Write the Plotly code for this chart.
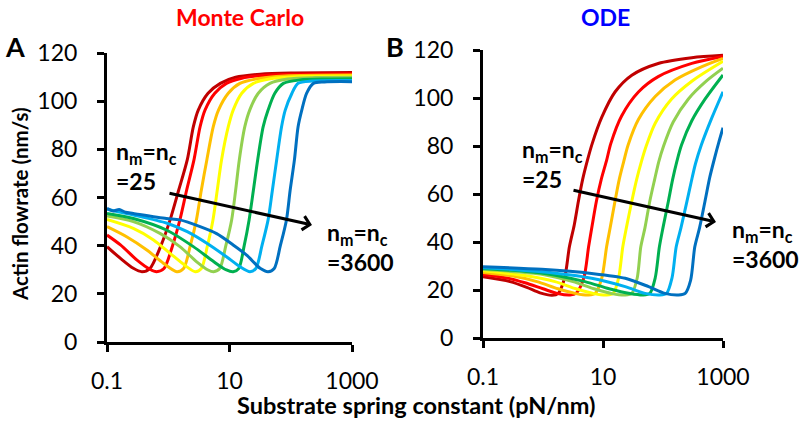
import plotly.graph_objects as go

# ---------------- data ----------------
series_names = ["25", "50", "100", "200", "400", "900", "1600", "3600"]
series_colors = ["#C00000", "#FF0000", "#FFC000", "#FFFF00",
                 "#92D050", "#00B050", "#00B0F0", "#0070C0"]

# Monte Carlo panel (x: substrate spring constant pN/nm, y: actin flowrate nm/s)
mc_dr_x = [0.1, 0.166, 0.269, 0.372, 0.501, 0.759, 1.072, 1.479, 2.042, 2.570, 3.090, 4.467, 7.079, 12.59, 31.62, 100, 1000]
mc_dr_y = [39.6, 34.7, 30.6, 29.2, 30.5, 40.0, 50.7, 63.0, 75.6, 89.4, 96.3, 103.3, 107.4, 109.9, 111.2, 111.7, 111.9]

mc_r_x = [0.1, 0.166, 0.309, 0.501, 0.646, 0.851, 1.175, 1.549, 1.995, 2.630, 3.311, 3.981, 5.754, 8.913, 15.85, 39.81, 125.9, 1000]
mc_r_y = [44.4, 40.3, 34.0, 30.2, 29.2, 30.5, 40.0, 50.7, 63.0, 75.6, 89.4, 96.3, 103.3, 107.4, 109.5, 110.8, 111.2, 111.4]

mc_o_x = [0.1, 0.209, 0.447, 0.832, 1.380, 1.778, 2.291, 2.884, 3.467, 4.266, 5.433, 6.607, 9.550, 14.79, 28.18, 79.43, 1000]
mc_o_y = [47.9, 43.7, 38.2, 32.7, 29.2, 30.5, 40.0, 50.7, 63.0, 75.6, 89.4, 96.3, 103.3, 107.4, 109.3, 110.5, 110.9]

mc_y_x = [0.1, 0.269, 0.575, 1.072, 1.995, 2.754, 3.467, 4.365, 5.370, 6.310, 7.413, 9.550, 11.48, 15.85, 24.55, 44.67, 125.9, 1000]
mc_y_y = [50.9, 47.2, 42.4, 36.8, 31.3, 29.2, 30.5, 40.0, 50.7, 63.0, 75.6, 89.4, 96.3, 103.3, 107.4, 109.2, 110.1, 110.4]

mc_lg_x = [0.1, 0.269, 0.733, 1.549, 2.884, 4.467, 5.495, 6.918, 8.710, 10.84, 12.59, 14.45, 17.78, 21.38, 29.51, 45.71, 89.13, 251.2, 1000]
mc_lg_y = [52.3, 50.0, 45.1, 39.6, 33.4, 29.9, 29.2, 30.5, 40.0, 50.7, 63.0, 75.6, 89.4, 96.3, 103.3, 107.4, 109.2, 109.8, 109.9]

mc_g_x = [0.1, 0.269, 0.933, 2.570, 5.495, 8.913, 11.48, 14.13, 17.38, 20.89, 24.55, 28.84, 35.48, 42.66, 54.95, 75.86, 141.3, 398.1, 1000]
mc_g_y = [53.4, 51.3, 46.5, 39.6, 33.4, 29.9, 29.2, 30.5, 40.0, 50.7, 63.0, 75.6, 89.4, 96.3, 103.3, 107.4, 108.8, 109.2, 109.3]

mc_lb_x = [0.1, 0.158, 0.272, 0.955, 2.042, 4.266, 8.913, 14.79, 21.63, 26.92, 33.88, 42.66, 50.12, 58.88, 70.79, 81.28, 104.7, 131.8, 223.9, 1000]
mc_lb_y = [55.1, 54.0, 52.7, 49.3, 45.8, 41.0, 35.4, 31.3, 29.2, 30.5, 40.0, 50.7, 63.0, 75.6, 89.4, 96.3, 103.3, 107.4, 108.4, 108.6]

mc_b_x = [0.1, 0.126, 0.158, 0.2, 0.269, 0.933, 1.549, 3.311, 6.166, 11.48, 19.05, 31.62, 42.66, 53.70, 67.61, 85.11, 97.72, 114.8, 131.8, 151.4, 182.0, 234.4, 354.8, 1000]
mc_b_y = [55.5, 54.4, 55.0, 53.9, 53.4, 51.3, 50.7, 47.9, 45.0, 40.3, 36.1, 30.6, 29.2, 30.5, 40.0, 50.7, 63.0, 75.6, 89.4, 96.3, 103.3, 107.4, 108.0, 108.1]

# ODE panel
ode_dr_x = [0.1, 0.282, 0.537, 0.891, 1.413, 1.778, 2.291, 2.754, 3.311, 3.890, 4.571, 5.495, 6.607, 9.550, 15.85, 30.20, 83.18, 302.0, 1000]
ode_dr_y = [25.5, 23.5, 21.1, 18.8, 17.8, 18.5, 25.0, 38.0, 47.0, 57.0, 66.0, 74.0, 81.0, 92.0, 102.5, 109.5, 114.4, 116.8, 117.8]

ode_r_x = [0.1, 0.251, 0.501, 1.0, 1.778, 2.818, 3.548, 4.786, 5.754, 6.607, 7.762, 9.333, 11.48, 13.49, 20.42, 38.90, 83.18, 302.0, 1000]
ode_r_y = [26.5, 25.0, 23.0, 20.5, 18.5, 17.9, 18.6, 25.0, 38.0, 47.0, 57.0, 66.0, 74.0, 81.0, 92.5, 102.5, 108.9, 114.4, 117.3]

ode_o_x = [0.1, 0.316, 0.794, 1.778, 3.548, 5.754, 7.413, 9.550, 11.48, 13.18, 15.85, 18.62, 21.88, 26.30, 38.90, 74.13, 158.5, 436.5, 1000]
ode_o_y = [27.3, 25.8, 23.5, 20.5, 18.5, 17.9, 18.6, 25.0, 38.0, 46.0, 57.0, 66.0, 73.0, 80.5, 91.0, 100.6, 107.5, 113.0, 116.5]

ode_y_x = [0.1, 0.501, 1.585, 3.548, 7.079, 11.48, 14.79, 18.20, 21.38, 24.55, 30.20, 36.31, 43.65, 52.48, 74.13, 138.0, 302.0, 1000]
ode_y_y = [28.0, 26.0, 23.5, 20.5, 18.5, 17.9, 18.6, 25.0, 38.0, 46.0, 57.0, 66.0, 73.5, 80.0, 89.5, 99.5, 107.0, 115.3]

ode_lg_x = [0.1, 1.0, 3.162, 7.079, 14.13, 23.44, 30.20, 37.15, 42.66, 50.12, 60.26, 72.44, 85.11, 102.3, 147.9, 263.0, 524.8, 1000]
ode_lg_y = [28.5, 26.5, 23.5, 20.5, 18.5, 17.9, 18.6, 25.0, 38.0, 46.0, 57.0, 66.0, 73.5, 80.0, 90.0, 99.5, 107.0, 112.4]

ode_g_x = [0.1, 1.0, 5.012, 12.59, 28.18, 46.77, 60.26, 74.13, 87.10, 100, 123.0, 144.5, 169.8, 204.2, 302.0, 501.2, 1000]
ode_g_y = [29.0, 27.0, 23.5, 20.5, 18.5, 17.9, 18.6, 25.0, 38.0, 46.0, 57.0, 66.0, 73.5, 80.5, 90.5, 99.5, 109.6]

ode_lb_x = [0.1, 0.955, 6.457, 23.44, 50.12, 89.13, 114.8, 141.3, 166.0, 199.5, 251.2, 295.1, 346.7, 436.5, 645.7, 1000]
ode_lb_y = [29.3, 27.6, 24.9, 21.4, 18.6, 17.9, 18.6, 25.0, 38.0, 46.0, 57.0, 65.0, 72.5, 80.5, 91.5, 102.6]

ode_b_x = [0.1, 0.955, 6.457, 23.44, 57.54, 107.2, 182.0, 234.4, 288.4, 338.8, 407.4, 501.2, 602.6, 724.4, 851.1, 1000]
ode_b_y = [29.7, 28.6, 26.9, 24.9, 21.4, 18.6, 17.9, 18.6, 24.0, 38.0, 46.0, 57.0, 67.0, 75.0, 81.5, 87.6]

x_tick_vals = [0.1, 10, 1000]
x_tick_text = ["0.1", "10", "1000"]
y_tick_vals = [0, 20, 40, 60, 80, 100, 120]

mc_series = [(mc_dr_x, mc_dr_y), (mc_r_x, mc_r_y), (mc_o_x, mc_o_y), (mc_y_x, mc_y_y),
             (mc_lg_x, mc_lg_y), (mc_g_x, mc_g_y), (mc_lb_x, mc_lb_y), (mc_b_x, mc_b_y)]
ode_series = [(ode_dr_x, ode_dr_y), (ode_r_x, ode_r_y), (ode_o_x, ode_o_y), (ode_y_x, ode_y_y),
              (ode_lg_x, ode_lg_y), (ode_g_x, ode_g_y), (ode_lb_x, ode_lb_y), (ode_b_x, ode_b_y)]

# ---------------- figure ----------------
FONT = "Lato"
W, H = 800, 423
fig = go.Figure()

for (xs, ys), nm, col in zip(mc_series, series_names, series_colors):
    fig.add_trace(go.Scatter(x=xs, y=ys, mode="lines", name=nm,
                             line=dict(color=col, width=3, shape="spline", smoothing=0.8),
                             xaxis="x", yaxis="y", showlegend=False))
for (xs, ys), nm, col in zip(ode_series, series_names, series_colors):
    fig.add_trace(go.Scatter(x=xs, y=ys, mode="lines", name=nm,
                             line=dict(color=col, width=3, shape="spline", smoothing=0.8),
                             xaxis="x2", yaxis="y2", showlegend=False))

def px(x):
    return x / W

def py(y):
    return 1 - y / H

axis_common = dict(showline=True, linecolor="black", linewidth=3, ticks="outside",
                   ticklen=7, tickwidth=3, tickcolor="black", showgrid=False, zeroline=False,
                   automargin=False,
                   tickfont=dict(family=FONT, size=23, color="black"))
xax = dict(type="log", range=[-1, 3], tickvals=x_tick_vals, ticktext=x_tick_text,
           ticklabelstandoff=9, **axis_common)
yax = dict(range=[0, 120], tickvals=y_tick_vals, ticklabelstandoff=15, **axis_common)

fig.update_layout(
    template="none",
    width=W, height=H, margin=dict(l=0, r=0, t=0, b=0, pad=0), autosize=False,
    paper_bgcolor="white", plot_bgcolor="white",
    xaxis=dict(domain=[px(107), px(352)], anchor="y", **xax),
    yaxis=dict(domain=[py(342), py(53)], anchor="x", **yax),
    xaxis2=dict(domain=[px(483), px(723)], anchor="y2", **xax),
    yaxis2=dict(domain=[py(338), py(50)], anchor="x2", **yax),
)

lab = dict(family=FONT, size=23, color="black")
nlabel_a = "<b>n<sub>m</sub>=n<sub>c</sub><br>=25</b>"
nlabel_b = "<b>n<sub>m</sub>=n<sub>c</sub><br>=3600</b>"

annotations = [
    dict(text="<b>Monte Carlo</b>", x=px(240), y=py(17), font=dict(family=FONT, size=23, color="#FF0000")),
    dict(text="<b>ODE</b>", x=px(605), y=py(17), font=dict(family=FONT, size=23, color="#0000FF")),
    dict(text="<b>A</b>", x=px(15), y=py(46), font=dict(family=FONT, size=27, color="black")),
    dict(text="<b>B</b>", x=px(395), y=py(46), font=dict(family=FONT, size=27, color="black")),
    dict(text="<b>Substrate spring constant (pN/nm)</b>", x=px(416), y=py(405),
         font=dict(family=FONT, size=23.5, color="black")),
    dict(text="<b>Actin flowrate (nm/s)</b>", x=px(20), y=py(204), textangle=-90,
         font=dict(family=FONT, size=20.5, color="black")),
    dict(text=nlabel_a, x=px(114), y=py(166), xanchor="left", align="left", font=lab),
    dict(text=nlabel_b, x=px(325), y=py(247), xanchor="left", align="left", font=lab),
    dict(text=nlabel_a, x=px(520), y=py(164), xanchor="left", align="left", font=lab),
    dict(text=nlabel_b, x=px(730), y=py(244), xanchor="left", align="left", font=lab),
]
for a in annotations:
    a.setdefault("xanchor", "center")
    a.update(xref="paper", yref="paper", yanchor="middle", showarrow=False)

arrows = [
    dict(x=px(312), y=py(225), ax=168 - 312, ay=193 - 225),
    dict(x=px(716), y=py(222), ax=572 - 716, ay=190 - 222),
]
for a in arrows:
    a.update(xref="paper", yref="paper", text="", showarrow=True, arrowhead=4,
             arrowsize=0.9, arrowwidth=3, arrowcolor="black", standoff=0)

fig.update_layout(annotations=annotations + arrows)

fig.write_html("out.html", config={"displayModeBar": False},
               post_script="document.body.style.margin='0';document.body.style.overflow='hidden';")
